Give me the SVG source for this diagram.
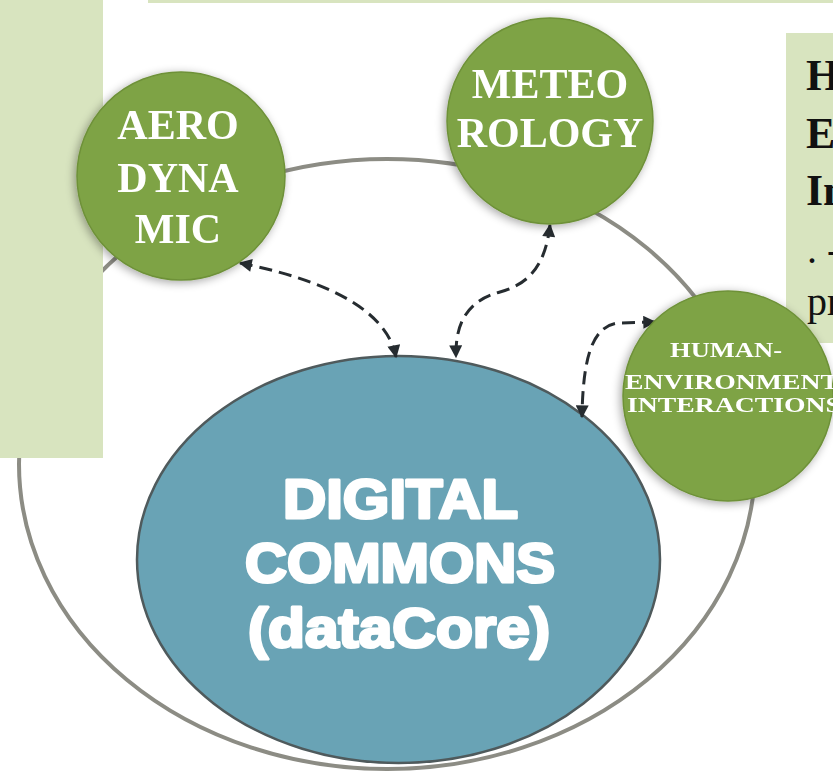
<svg xmlns="http://www.w3.org/2000/svg" width="833" height="771" viewBox="0 0 833 771">
  <style>
    .panel { fill: #d8e4bf; }
    .green { fill: #7ea345; stroke: #6e9139; stroke-width: 1.5; }
    .gtext { font-family: "Liberation Serif", "Times New Roman", serif; font-weight: bold; fill: #ffffff; text-anchor: middle; }
    .big { font-size: 42px; }
    .small { font-size: 22px; text-anchor: start; }
    .core { font-family: "Liberation Sans", Arial, sans-serif; font-weight: bold; font-size: 56px; fill: #ffffff; stroke: #ffffff; stroke-width: 3; stroke-linejoin: round; text-anchor: start; }
    .conn { fill: none; stroke: #262c30; stroke-width: 3; stroke-dasharray: 13 7; marker-start: url(#ah); marker-end: url(#ah); }
    .boxtext { font-family: "Liberation Serif", "Times New Roman", serif; fill: #111111; }
  </style>
  <defs>
    <marker id="ah" viewBox="0 0 10 10" refX="9" refY="5" markerWidth="15" markerHeight="13" markerUnits="userSpaceOnUse" orient="auto-start-reverse">
      <path d="M0,0 L10,5 L0,10 z" fill="#262c30"/>
    </marker>
    <filter id="sh" x="-30%" y="-30%" width="160%" height="160%">
      <feGaussianBlur in="SourceAlpha" stdDeviation="5"/>
      <feOffset dx="-2" dy="2" result="b"/>
      <feComponentTransfer><feFuncA type="linear" slope="0.35"/></feComponentTransfer>
      <feMerge><feMergeNode/><feMergeNode in="SourceGraphic"/></feMerge>
    </filter>
  </defs>

  <rect width="833" height="771" fill="#ffffff"/>

  <g id="outer-ring">
    <ellipse cx="387" cy="464" rx="368" ry="305" fill="none" stroke="#8c8c84" stroke-width="4"/>
  </g>

  <g id="left-panel"><rect class="panel" x="0" y="0" width="103" height="458"/></g>
  <g id="top-strip"><rect class="panel" x="148" y="0" width="685" height="3"/></g>

  <g id="info-box">
    <rect class="panel" x="786" y="33" width="47" height="310"/>
    <text class="boxtext" x="806" y="90" font-size="44" font-weight="bold">H</text>
    <text class="boxtext" x="806" y="148" font-size="44" font-weight="bold">E</text>
    <text class="boxtext" x="806" y="205" font-size="44" font-weight="bold">In</text>
    <text class="boxtext" x="807" y="263" font-size="40">. -</text>
    <text class="boxtext" x="807" y="315" font-size="40">pr</text>
  </g>

  <g id="digital-commons">
    <ellipse cx="398.5" cy="559.5" rx="261.5" ry="203.5" fill="#69a3b5" stroke="#4f5a5c" stroke-width="2.5"/>
    <text class="core" x="283" y="518" textLength="235" lengthAdjust="spacingAndGlyphs">DIGITAL</text>
    <text class="core" x="245" y="582" textLength="310" lengthAdjust="spacingAndGlyphs">COMMONS</text>
    <text class="core" x="248" y="647" textLength="302" lengthAdjust="spacingAndGlyphs">(dataCore)</text>
  </g>

  <g id="connectors">
    <path class="conn" d="M240,263 C300,275 385,300 396,357"/>
    <path class="conn" d="M550,225 C545,270 525,285 500,292 C470,300 455,320 456,357"/>
    <path class="conn" d="M655,322 L618,323 C595,326 583,350 582,417"/>
  </g>

  <g id="aerodynamic" filter="url(#sh)">
    <circle class="green" cx="181" cy="176" r="104"/>
    <text class="gtext big" x="178" y="139">AERO</text>
    <text class="gtext big" x="178" y="192">DYNA</text>
    <text class="gtext big" x="178" y="243">MIC</text>
  </g>

  <g id="meteorology" filter="url(#sh)">
    <circle class="green" cx="550" cy="121" r="103"/>
    <text class="gtext big" x="550" y="98">METEO</text>
    <text class="gtext big" x="550" y="147">ROLOGY</text>
  </g>

  <g id="human-environment" filter="url(#sh)">
    <circle class="green" cx="728" cy="396" r="105"/>
    <text class="gtext small" x="670" y="357" textLength="112" lengthAdjust="spacingAndGlyphs">HUMAN-</text>
    <text class="gtext small" x="625" y="389" textLength="214" lengthAdjust="spacingAndGlyphs">ENVIRONMENT</text>
    <text class="gtext small" x="627" y="412" textLength="214" lengthAdjust="spacingAndGlyphs">INTERACTIONS</text>
  </g>
</svg>
